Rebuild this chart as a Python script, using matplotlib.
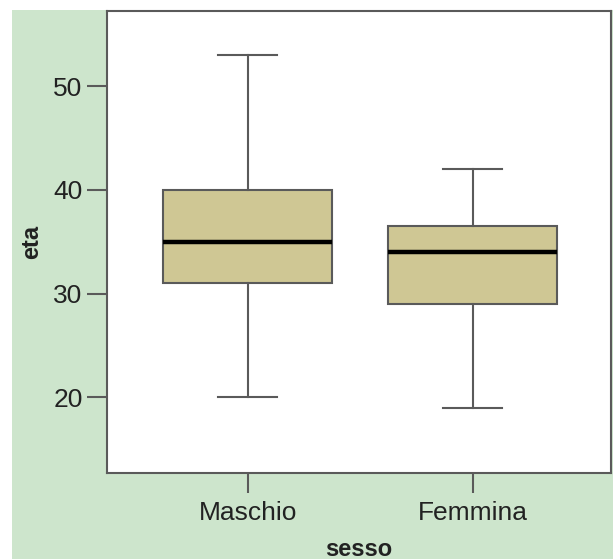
import matplotlib
matplotlib.use("Agg")
import matplotlib.pyplot as plt
from matplotlib.patches import Rectangle

# Age (eta) by sex (sesso): five-number summaries per group
groups = ["Maschio", "Femmina"]
whislo = [20, 19]
q1 = [31, 29]
med = [35, 34]
q3 = [40, 36.5]
whishi = [53, 42]
yticks = [20, 30, 40, 50]

plt.rcParams["font.family"] = ["Liberation Sans", "DejaVu Sans"]

fig = plt.figure(figsize=(6.16, 5.59), dpi=100)
fig.patch.set_facecolor("white")

# light green panel behind the plot
fig.patches.append(Rectangle((12 / 616, 0), 601 / 616, 1 - 10 / 559,
                             transform=fig.transFigure, facecolor="#cde5cc",
                             edgecolor="none", zorder=0))

ax = fig.add_axes([107 / 616, 1 - 473 / 559, 504 / 616, 462.5 / 559])
ax.set_zorder(2)
ax.set_facecolor("white")

stats = [dict(label=g, whislo=lo, q1=a, med=m, q3=b, whishi=hi, fliers=[])
         for g, lo, a, m, b, hi in zip(groups, whislo, q1, med, q3, whishi)]

edge = "#5a5a5a"
ax.bxp(stats, positions=[1, 2], widths=0.75, capwidths=0.26, patch_artist=True,
       showfliers=False,
       boxprops=dict(facecolor="#cfc794", edgecolor=edge, linewidth=1.5),
       medianprops=dict(color="black", linewidth=3.2),
       whiskerprops=dict(color=edge, linewidth=1.5),
       capprops=dict(color=edge, linewidth=1.5))

ax.set_xlim(0.375, 2.615)
ax.set_ylim(12.7, 57.3)
ax.set_yticks(yticks)
ax.set_xticks([1, 2])
ax.set_xticklabels(groups)

for s in ax.spines.values():
    s.set_color(edge)
    s.set_linewidth(1.5)

ax.tick_params(axis="both", direction="out", length=14.5, width=1.5,
               color=edge, labelsize=19, labelcolor="#222222")
ax.tick_params(axis="y", pad=3)
ax.tick_params(axis="x", pad=6)

fig.text(32 / 616, 1 - 242 / 559, "eta", rotation=90, ha="center", va="center",
         fontsize=17, fontweight="bold", color="#222222", zorder=3)
fig.text(359 / 616, 1 - 549 / 559, "sesso", ha="center", va="center",
         fontsize=17, fontweight="bold", color="#222222", zorder=3)

fig.savefig("out.png", dpi=100, facecolor=fig.get_facecolor())
